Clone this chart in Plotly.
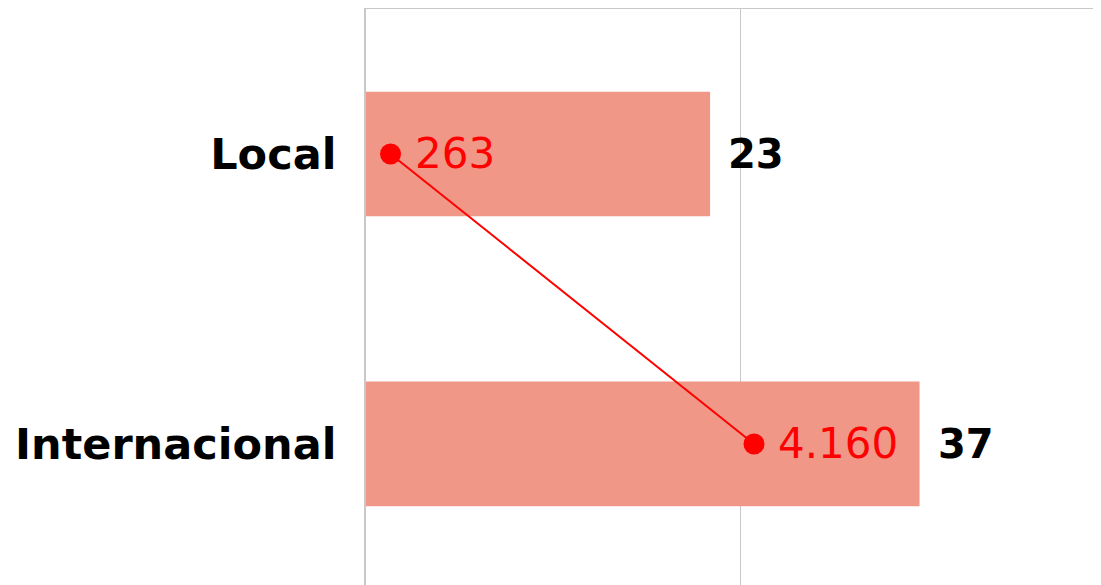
import plotly.graph_objects as go

categories = ["Local", "Internacional"]
bar_values = [23, 37]
line_values = [263, 4160]
line_labels = ["263", "4.160"]

BAR_COLOR = "#F09788"
RED = "#FF0000"
GRID = "#C8C8C8"
FONT = "DejaVu Sans"

fig = go.Figure()
fig.add_trace(go.Bar(
    y=categories, x=bar_values, orientation="h",
    marker=dict(color=BAR_COLOR, line=dict(width=0)),
    width=0.43, xaxis="x", yaxis="y", hoverinfo="skip",
))
fig.add_trace(go.Scatter(
    y=categories, x=line_values, mode="lines+markers",
    line=dict(color=RED, width=2),
    marker=dict(color=RED, size=21),
    xaxis="x2", yaxis="y", hoverinfo="skip",
))

annotations = []
for c, v in zip(categories, bar_values):
    annotations.append(dict(
        x=v, y=c, xref="x", yref="y", text=f"<b>{v}</b>", showarrow=False,
        xanchor="left", yanchor="middle", xshift=16,
        font=dict(family=FONT, size=40, color="#000000"),
    ))
for c, v, t in zip(categories, line_values, line_labels):
    annotations.append(dict(
        x=v, y=c, xref="x2", yref="y", text=t, showarrow=False,
        xanchor="left", yanchor="middle", xshift=22,
        font=dict(family=FONT, size=42, color=RED),
    ))

fig.update_layout(
    width=1093, height=585,
    margin=dict(l=358, r=0, t=1, b=0),
    plot_bgcolor="white", paper_bgcolor="white",
    showlegend=False,
    font=dict(family=FONT, color="#000000"),
    annotations=annotations,
    xaxis=dict(
        range=[0, 49.13], dtick=25, showgrid=True, gridcolor=GRID, gridwidth=1,
        zeroline=False, showticklabels=False, ticks="", showline=False,
    ),
    xaxis2=dict(
        range=[0, 7880], overlaying="x", side="top", showgrid=False,
        zeroline=False, showticklabels=False, ticks="",
        showline=True, linecolor=GRID, linewidth=2,
    ),
    yaxis=dict(
        categoryorder="array", categoryarray=categories,
        range=[1.514, -0.5], showgrid=False, zeroline=False,
        showline=True, linecolor=GRID, linewidth=2,
        ticks="", ticklabelstandoff=19,
        tickfont=dict(family=FONT, size=43, color="#000000", weight="bold"),
    ),
)

fig.write_html("out.html")
